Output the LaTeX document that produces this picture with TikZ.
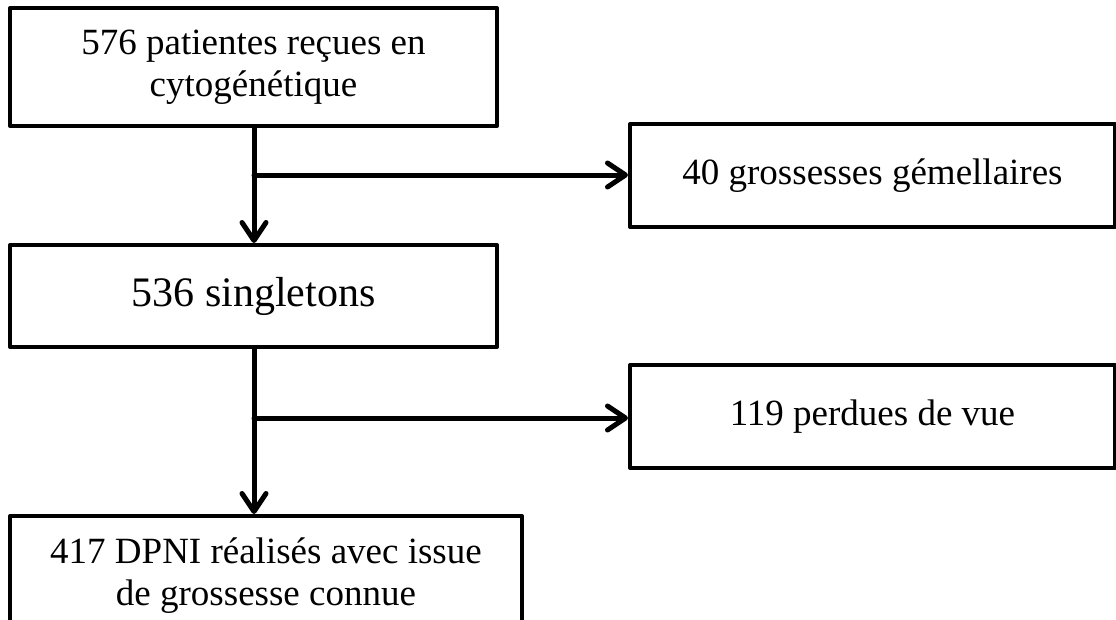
\documentclass[tikz,border=0pt]{standalone}
\usepackage{fontspec}
\setmainfont{Liberation Serif}
\usetikzlibrary{arrows.meta}
\begin{document}
\begin{tikzpicture}[x=1pt,y=-1pt,
  box/.style={draw=black,line width=4pt,fill=white,inner sep=0pt,align=center,
    font=\fontsize{37}{42}\selectfont,line join=round},
  conn/.style={line width=5pt,line cap=round,line join=round},
  arr/.style={conn,-{Straight Barb[length=18pt,width=24pt,line width=5pt,round]}}]
\useasboundingbox (0,0) rectangle (1116,619);
\clip (0,0) rectangle (1116,619);
\node[box,minimum width=487pt,minimum height=118pt] (a) at (253.5,67)
  {576 patientes reçues en\\cytogénétique};
\node[box,minimum width=485pt,minimum height=103pt] (g) at (872.5,175.5)
  {40 grossesses gémellaires};
\node[box,minimum width=487pt,minimum height=102pt,font=\fontsize{42}{48}\selectfont] (b) at (253.5,296)
  {536 singletons};
\node[box,minimum width=485pt,minimum height=103pt] (p) at (872.5,416.5)
  {119 perdues de vue};
\node[box,minimum width=512pt,minimum height=119pt] (c) at (266,575.5)
  {417 DPNI réalisés avec issue\\de grossesse connue};
\coordinate (j1) at (254,175);
\coordinate (j2) at (254,418);
\draw[arr] (a.south -| j1) -- (b.north -| j1);
\draw[arr] (j1) -- (j1 -| g.west);
\draw[arr] (b.south -| j2) -- (c.north -| j2);
\draw[arr] (j2) -- (j2 -| p.west);
\end{tikzpicture}
\end{document}
